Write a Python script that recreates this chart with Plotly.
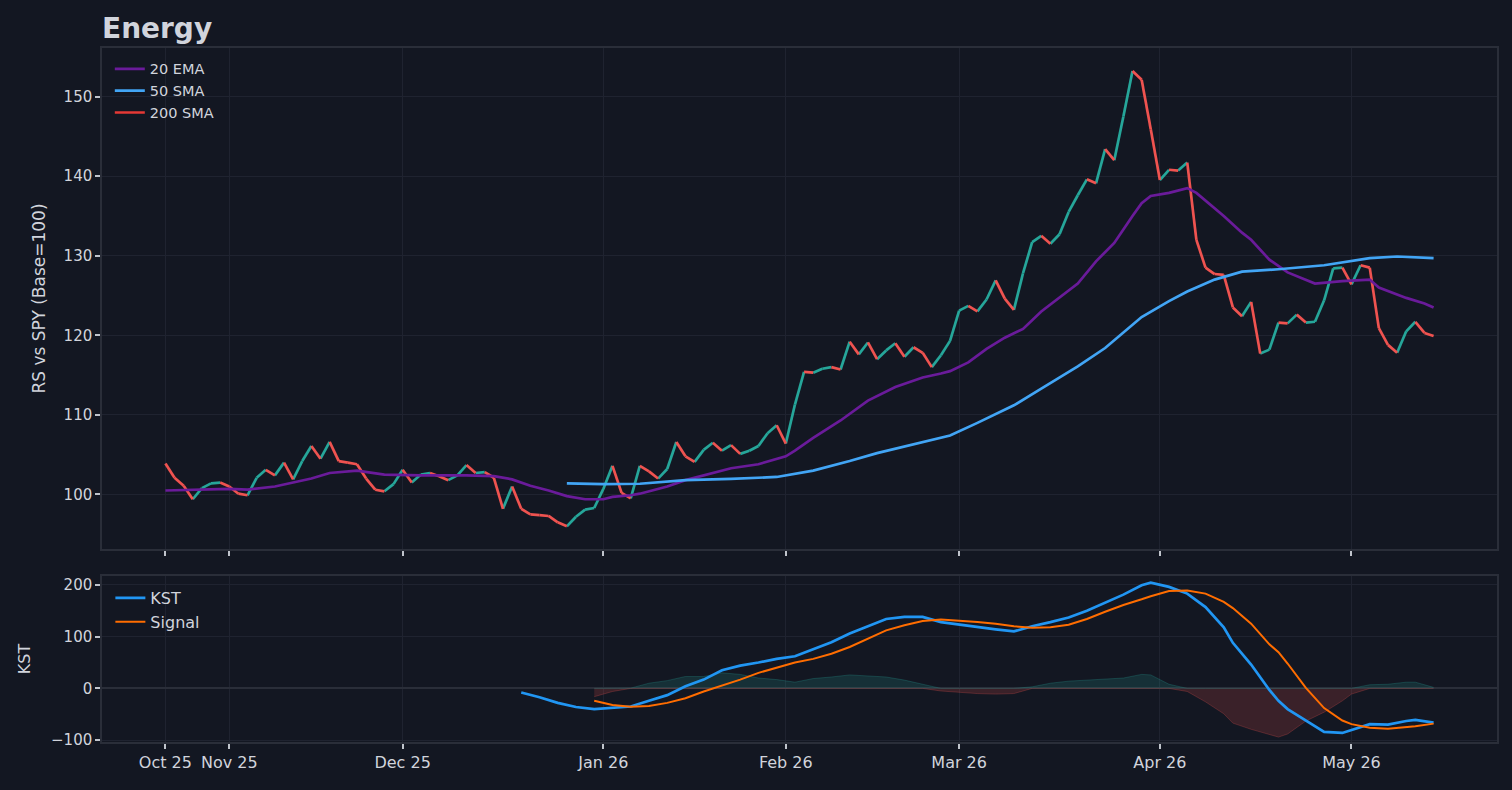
import pandas as pd
import plotly.graph_objects as go

# ---------------- data ----------------
START, END = "2025-10-23", "2026-05-14"
HOLIDAYS = ["2025-11-27", "2025-12-25", "2026-01-01", "2026-01-19", "2026-02-16", "2026-04-03"]

rs_values = [
    103.9, 102.1, 101.1, 99.4, 100.8, 101.4, 101.5, 101.0, 100.1, 99.9,
    102.1, 103.1, 102.4, 104.0, 101.9, 104.2, 106.1, 104.5, 106.6, 104.2,
    104.0, 103.8, 102.0, 100.6, 100.4, 101.3, 103.1, 101.5, 102.5, 102.7,
    102.3, 101.8, 102.4, 103.7, 102.7, 102.8, 102.1, 98.2, 101.0, 98.2,
    97.5, 97.4, 97.3, 96.5, 96.0, 97.2, 98.1, 98.3, 100.7, 103.6,
    100.2, 99.5, 103.6, 102.9, 102.0, 103.2, 106.6, 104.8, 104.1, 105.6,
    106.5, 105.5, 106.2, 105.1, 105.5, 106.1, 107.7, 108.7, 106.4, 111.3,
    115.4, 115.3, 115.8, 116.0, 115.7, 119.2, 117.6, 119.1, 117.0, 118.1,
    119.0, 117.3, 118.5, 117.8, 116.0, 117.5, 119.3, 123.1, 123.7, 123.0,
    124.5, 126.9, 124.6, 123.2, 127.8, 131.7, 132.5, 131.5, 132.7, 135.5,
    137.6, 139.6, 139.1, 143.4, 142.0, 147.5, 153.2, 152.1, 145.9, 139.5,
    140.8, 140.7, 141.7, 132.0, 128.5, 127.7, 127.6, 123.5, 122.4, 124.2,
    117.7, 118.2, 121.6, 121.5, 122.6, 121.6, 121.7, 124.4, 128.4, 128.5,
    126.4, 128.8, 128.5, 120.9, 118.8, 117.8, 120.5, 121.7, 120.3, 119.9,
]

ema20_idx = [0, 3, 7, 9, 12, 14, 16, 18, 21, 24, 28, 33, 36, 38, 40, 42, 44, 46, 48, 49,
             51, 52, 55, 57, 60, 62, 65, 67, 68, 69, 71, 74, 77, 80, 83, 85, 86, 88, 90, 92,
             94, 96, 98, 100, 102, 104, 106, 107, 108, 110, 112, 113, 116, 118, 119, 121, 123, 126, 129, 132,
             133, 136, 138, 139]
ema20_vals = [100.5, 100.6, 100.7, 100.6, 101.0, 101.5, 102.0, 102.7, 103.0, 102.5,
              102.4, 102.4, 102.3, 101.9, 101.1, 100.5, 99.8, 99.4, 99.4, 99.7,
              99.9, 100.1, 101.0, 101.8, 102.7, 103.3, 103.8, 104.5, 104.8, 105.5,
              107.1, 109.3, 111.8, 113.5, 114.7, 115.2, 115.5, 116.6, 118.3, 119.7,
              120.8, 123.0, 124.7, 126.5, 129.3, 131.6, 135.0, 136.6, 137.5, 137.9,
              138.5, 137.9, 135.0, 132.9, 132.0, 129.5, 127.9, 126.5, 126.8, 127.0,
              126.0, 124.7, 124.0, 123.5]

sma50_idx = [44, 48, 52, 57, 62, 67, 71, 75, 78, 82, 86, 89, 93, 96, 100, 103, 105, 107,
             110, 112, 115, 118, 122, 127, 132, 135, 139]
sma50_vals = [101.4, 101.3, 101.35, 101.8, 101.95, 102.2, 103.0, 104.2, 105.2, 106.3,
              107.4, 109.0, 111.2, 113.3, 116.1, 118.4, 120.3, 122.3, 124.3, 125.5,
              127.0, 128.0, 128.3, 128.8, 129.7, 129.9, 129.7]

# 200 SMA: no values inside this window (not enough history)
sma200_vals = [None] * len(rs_values)

kst_idx = [39, 41, 43, 45, 47, 49, 51, 53, 55, 57, 59, 61, 63, 65, 67, 69, 71, 73, 75, 77,
           79, 81, 83, 85, 87, 89, 91, 93, 95, 97, 99, 101, 103, 105, 107, 108, 110, 112, 114, 116,
           117, 119, 121, 122, 123, 125, 127, 129, 130, 132, 134, 136, 137, 139]
kst_vals = [-8, -17, -28, -36, -40, -38, -35, -24, -13, 4,
            17, 35, 44, 50, 57, 62, 76, 89, 106, 120,
            134, 138, 138, 128, 123, 118, 114, 110, 120, 128,
            137, 150, 166, 181, 199, 204, 196, 183, 157, 118,
            88, 46, -3, -24, -40, -62, -84, -86, -80, -69,
            -70, -63, -61, -66]
signal_vals = [None, None, None, None, -24, -32, -35.5, -34, -28, -19,
               -6, 5, 17, 30, 40, 50, 57, 67, 80, 96,
               112, 122, 130, 133, 131, 128, 125, 120, 117, 118,
               123, 134, 148, 161, 172, 178, 188, 189, 183, 167,
               155, 125, 85, 70, 48, 1, -38, -62, -69, -76,
               -78, -75, -73, -68]

# ---------------- styling ----------------
BG = "#131722"
GRID = "#1f2330"
SPINE = "#2a2e39"
TXT = "#d1d4dc"
UP = "#26a69a"
DOWN = "#ef5350"
FONT = "DejaVu Sans"

dates = pd.bdate_range(START, END, freq="C", holidays=HOLIDAYS)
cats = [d.strftime("%Y-%m-%d") for d in dates]
month_first = dates.to_series().groupby([dates.year, dates.month]).first()
tickvals = [d.strftime("%Y-%m-%d") for d in month_first]
ticktext = [d.strftime("%b %y") for d in month_first]

fig = go.Figure()

# price segments coloured by direction
up_x, up_y, dn_x, dn_y = [], [], [], []
for i in range(1, len(rs_values)):
    a, b = rs_values[i - 1], rs_values[i]
    xs, ys = (up_x, up_y) if b >= a else (dn_x, dn_y)
    xs += [cats[i - 1], cats[i], cats[i]]
    ys += [a, b, None]
fig.add_trace(go.Scatter(x=up_x, y=up_y, mode="lines", line=dict(color=UP, width=2.7),
                         showlegend=False, hoverinfo="skip", xaxis="x", yaxis="y"))
fig.add_trace(go.Scatter(x=dn_x, y=dn_y, mode="lines", line=dict(color=DOWN, width=2.7),
                         showlegend=False, hoverinfo="skip", xaxis="x", yaxis="y"))

fig.add_trace(go.Scatter(x=[cats[i] for i in ema20_idx], y=ema20_vals, mode="lines",
                         name="20 EMA", line=dict(color="#6a1b9a", width=2.7),
                         xaxis="x", yaxis="y", legend="legend"))
fig.add_trace(go.Scatter(x=[cats[i] for i in sma50_idx], y=sma50_vals, mode="lines",
                         name="50 SMA", line=dict(color="#42a5f5", width=2.7),
                         xaxis="x", yaxis="y", legend="legend"))
fig.add_trace(go.Scatter(x=cats, y=sma200_vals, mode="lines",
                         name="200 SMA", line=dict(color="#e53935", width=2.7),
                         xaxis="x", yaxis="y", legend="legend"))

# KST histogram (KST - Signal)
kx = [cats[i] for i in kst_idx]
hist = [None if s is None else k - s for k, s in zip(kst_vals, signal_vals)]
pos = [None if h is None else max(h, 0) for h in hist]
neg = [None if h is None else min(h, 0) for h in hist]
fig.add_trace(go.Scatter(x=kx, y=pos, mode="lines", fill="tozeroy",
                         fillcolor="rgba(38,166,154,0.18)", line=dict(color="rgba(38,166,154,0.25)", width=1),
                         showlegend=False, hoverinfo="skip", xaxis="x2", yaxis="y2"))
fig.add_trace(go.Scatter(x=kx, y=neg, mode="lines", fill="tozeroy",
                         fillcolor="rgba(239,83,80,0.18)", line=dict(color="rgba(239,83,80,0.25)", width=1),
                         showlegend=False, hoverinfo="skip", xaxis="x2", yaxis="y2"))
fig.add_trace(go.Scatter(x=kx, y=kst_vals, mode="lines", name="KST",
                         line=dict(color="#2196f3", width=2.7), xaxis="x2", yaxis="y2", legend="legend2"))
fig.add_trace(go.Scatter(x=kx, y=signal_vals, mode="lines", name="Signal",
                         line=dict(color="#ff6d00", width=2), xaxis="x2", yaxis="y2", legend="legend2"))

axis_common = dict(
    showgrid=True, gridcolor=GRID, gridwidth=1,
    showline=True, linecolor=SPINE, linewidth=1.5, mirror=True,
    ticks="outside", tickcolor="#c0c4cc", tickwidth=1.5, ticklen=5,
    tickfont=dict(family=FONT, size=15, color=TXT), zeroline=False,
)
xrange = [-6.95, len(cats) - 1 + 6.95]
xfont = dict(family=FONT, size=16, color=TXT)

fig.update_layout(
    width=1512, height=790,
    paper_bgcolor=BG, plot_bgcolor=BG,
    margin=dict(l=102, r=15, t=48, b=48),
    font=dict(family=FONT, color=TXT),
    title=dict(text="<b>Energy</b>", x=0, xref="paper", xanchor="left",
               y=1 - 28 / 790, yref="container", yanchor="middle",
               font=dict(family=FONT, size=28, color=TXT)),
    xaxis=dict(axis_common, domain=[0, 1], anchor="y", type="category",
               categoryorder="array", categoryarray=cats, range=xrange,
               tickvals=tickvals, ticktext=ticktext, showticklabels=False),
    xaxis2=dict(axis_common, domain=[0, 1], anchor="y2", type="category",
                categoryorder="array", categoryarray=cats, range=xrange, matches="x",
                tickvals=tickvals, ticktext=ticktext, showticklabels=True, tickfont=xfont),
    yaxis=dict(axis_common, domain=[0.2781, 1], anchor="x", range=[93.15, 156.1], dtick=10,
               title=dict(text="RS vs SPY (Base=100)", font=dict(family=FONT, size=17, color=TXT), standoff=14)),
    yaxis2=dict(axis_common, domain=[0, 0.2392], anchor="x2", range=[-103.5, 217],
                tickvals=[-100, 0, 100, 200], ticktext=["\u2212100", "0", "100", "200"],
                zeroline=True, zerolinecolor=SPINE, zerolinewidth=2,
                title=dict(text="KST", font=dict(family=FONT, size=16, color=TXT), standoff=16)),
    legend=dict(x=0.0056, y=0.993, xanchor="left", yanchor="top", bgcolor="rgba(0,0,0,0)",
                font=dict(family=FONT, size=14.5, color=TXT), itemwidth=30),
    legend2=dict(x=0.006, y=0.232, xanchor="left", yanchor="top", bgcolor="rgba(0,0,0,0)",
                 font=dict(family=FONT, size=16, color=TXT), itemwidth=30),
    showlegend=True,
)

fig.write_html("out.html", config={"displayModeBar": False},
               post_script="document.body.style.margin='0';document.body.style.background='#131722';")
